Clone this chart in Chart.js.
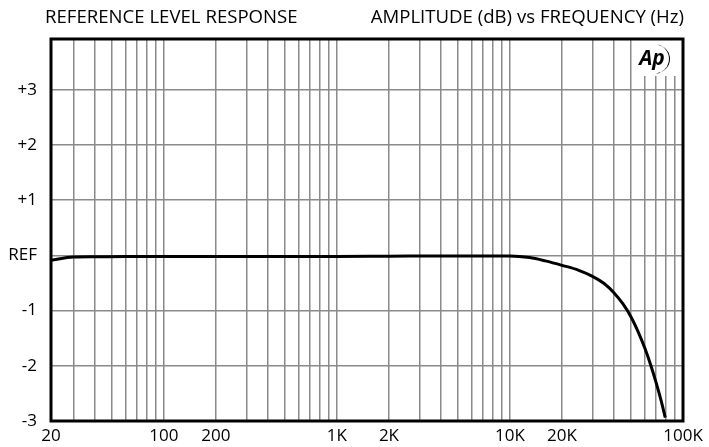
<!DOCTYPE html>
<html>
<head>
<meta charset="utf-8">
<script src="https://cdn.jsdelivr.net/npm/chart.js@4/dist/chart.umd.min.js"></script>
<style>
  html, body { margin: 0; padding: 0; background: #fff; }
  #wrap { width: 709px; height: 447px; position: relative; }
</style>
</head>
<body>
<div id="wrap"><canvas id="c"></canvas></div>
<script>
// Frequency sweep (Hz) and measured level relative to REF (dB)
const freqs = [22.3, 30, 40, 60, 100, 200, 500, 1000, 2000, 5000, 8000, 10000,
  13000, 16000, 20000, 25000, 30000, 35000, 40000, 45000, 50000, 55000,
  60000, 65000, 70000, 75000, 79000];
const levelDb = [-0.09, -0.03, -0.025, -0.02, -0.02, -0.02, -0.02, -0.02, -0.015, -0.01, -0.01, -0.01,
  -0.04, -0.1, -0.18, -0.27, -0.38, -0.51, -0.68, -0.88, -1.11, -1.38,
  -1.67, -1.98, -2.31, -2.65, -2.94];

// Axis ticks
const xMin = 22.3;
const xMax = 100000;
const xGridValues = [30, 40, 50, 60, 70, 80, 90, 100, 200, 300, 400, 500, 600, 700, 800, 900,
  1000, 2000, 3000, 4000, 5000, 6000, 7000, 8000, 9000,
  10000, 20000, 30000, 40000, 50000, 60000, 70000, 80000, 90000, 100000];
const xLabelValues = [xMin, 100, 200, 1000, 2000, 10000, 20000, 100000];
const xLabelTexts = ['20', '100', '200', '1K', '2K', '10K', '20K', '100K'];

const yMin = -3;
const yMax = 3.92;
const yTickValues = [-3, -2, -1, 0, 1, 2, 3];
const yTickLabels = ['-3', '-2', '-1', 'REF', '+1', '+2', '+3'];

const titleLeft = 'REFERENCE LEVEL RESPONSE';
const titleRight = 'AMPLITUDE (dB) vs FREQUENCY (Hz)';

const FONT = '"Open Sans", "Noto Sans", sans-serif';
const GRID = '#8a8a8a';

// titles, logo patch, frame
const decorations = {
  id: 'decorations',
  beforeDatasetsDraw(chart) {
    const { ctx, chartArea: a } = chart;
    // logo sits in a white patch over the top-right grid
    ctx.save();
    ctx.fillStyle = '#fff';
    ctx.fillRect(a.right - 48, a.top, 47, 37);
    ctx.restore();
  },
  afterDraw(chart) {
    const { ctx, chartArea: a } = chart;
    ctx.save();
    ctx.fillStyle = '#000';
    ctx.font = '18.6px ' + FONT;
    ctx.textBaseline = 'middle';
    ctx.textAlign = 'left';
    ctx.fillText(titleLeft, a.left - 6, 18);
    ctx.textAlign = 'right';
    ctx.fillText(titleRight, a.right + 1, 18);

    // frame
    ctx.strokeStyle = '#000';
    ctx.lineWidth = 3;
    ctx.strokeRect(a.left, a.top, a.right - a.left, a.bottom - a.top);

    // Ap logo
    const lx = a.right - 31, ly = a.top + 20;
    ctx.font = 'italic bold 21px ' + FONT;
    ctx.textAlign = 'center';
    ctx.fillText('Ap', lx, ly);
    ctx.beginPath();
    ctx.arc(lx + 2, ly, 15, -1.35, 1.45);
    ctx.arc(lx + 4, ly, 14, 1.4, -1.3, true);
    ctx.closePath();
    ctx.fill();
    ctx.restore();
  }
};

new Chart(document.getElementById('c'), {
  type: 'line',
  data: {
    datasets: [{
      data: freqs.map((f, i) => ({ x: f, y: levelDb[i] })),
      borderColor: '#000',
      borderWidth: 3,
      pointRadius: 0,
      fill: false,
      cubicInterpolationMode: 'monotone',
    }],
  },
  options: {
    responsive: true,
    maintainAspectRatio: false,
    animation: false,
    layout: { padding: { top: 39, right: 26, left: 0, bottom: 0 } },
    plugins: { legend: { display: false }, tooltip: { enabled: false }, title: { display: false } },
    scales: {
      x: {
        type: 'logarithmic',
        min: xMin,
        max: xMax,
        afterBuildTicks: (s) => {
          s.ticks = [xMin, ...xGridValues].map(v => ({ value: v }));
        },
        afterFit: (s) => { s.height = 26; },
        grid: { color: GRID, lineWidth: 1.5, drawTicks: false },
        border: { display: false },
        ticks: {
          autoSkip: false,
          maxRotation: 0,
          padding: 5,
          color: '#000',
          font: { size: 17, family: FONT },
          callback: (v) => {
            const i = xLabelValues.indexOf(v);
            return i >= 0 ? xLabelTexts[i] : '';
          },
        },
      },
      y: {
        type: 'linear',
        min: yMin,
        max: yMax,
        afterBuildTicks: (s) => {
          s.ticks = yTickValues.map(v => ({ value: v }));
        },
        afterFit: (s) => { s.width = 51; },
        grid: { color: GRID, lineWidth: 1.5, drawTicks: false },
        border: { display: false },
        ticks: {
          padding: 14,
          color: '#000',
          font: { size: 17, family: FONT },
          callback: (v) => {
            const i = yTickValues.indexOf(v);
            return i >= 0 ? yTickLabels[i] : '';
          },
        },
      },
    },
  },
  plugins: [decorations],
});
</script>
</body>
</html>
